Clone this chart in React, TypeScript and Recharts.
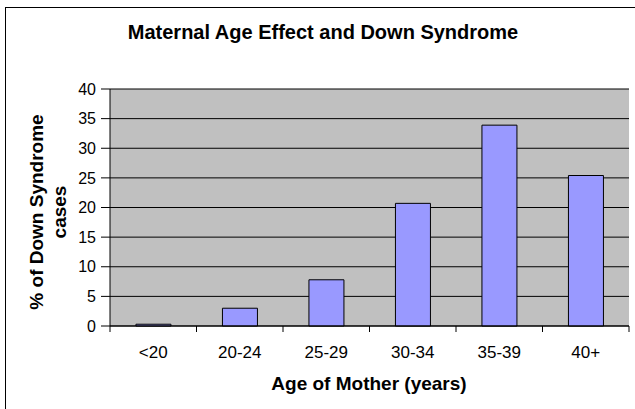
import { BarChart, Bar, XAxis, YAxis, CartesianGrid } from 'recharts';

// values
const ageGroups = ['<20', '20-24', '25-29', '30-34', '35-39', '40+'];
const downPercent = [0.3, 3.0, 7.8, 20.7, 33.9, 25.4];
const yTicks = [0, 5, 10, 15, 20, 25, 30, 35, 40];

const chartTitle = 'Maternal Age Effect and Down Syndrome';
const xTitle = 'Age of Mother (years)';
const yTitleLines = ['% of Down Syndrome', 'cases'];

const data = ageGroups.map((age, i) => ({ age, pct: downPercent[i] }));

const FONT = '"Liberation Sans", Arial, sans-serif';

// category label plus tick marks on the band boundaries (Excel style)
function AgeTick(props: any) {
  const { x, y, payload, index, visibleTicksCount } = props;
  const half = payload && payload.offset ? payload.offset : 43;
  const last = index === (visibleTicksCount ?? ageGroups.length) - 1;
  return (
    <g>
      <line x1={x - half} x2={x - half} y1={y} y2={y + 6} stroke="#000" />
      {last && <line x1={x + half} x2={x + half} y1={y} y2={y + 6} stroke="#000" />}
      <text x={x} y={y + 32} textAnchor="middle" fontSize={17} fontFamily={FONT} fill="#000">
        {payload.value}
      </text>
    </g>
  );
}

export default function App() {
  return (
    <div
      style={{
        position: 'fixed',
        left: 0,
        top: 0,
        width: 635,
        height: 409,
        overflow: 'hidden',
        background: '#fff',
      }}
    >
      {/* outer chart frame: only its left and top edges show in the picture */}
      <div
        style={{
          position: 'absolute',
          left: 5,
          top: 7,
          width: 630,
          height: 402,
          boxSizing: 'border-box',
          borderLeft: '1px solid #000',
          borderTop: '1px solid #000',
        }}
      />
      <div style={{ position: 'absolute', left: 0, top: 0 }}>
        <BarChart
          width={635}
          height={409}
          data={data}
          margin={{ top: 89, right: 6, left: 0, bottom: 0 }}
          barCategoryGap="30%"
        >
          <CartesianGrid vertical={false} stroke="#000" fill="#C0C0C0" fillOpacity={1} />
          <XAxis
            dataKey="age"
            height={83}
            tickSize={0}
            tickMargin={0}
            tickLine={false}
            axisLine={{ stroke: '#000' }}
            interval={0}
            tick={<AgeTick />}
          />
          <XAxis xAxisId="top" orientation="top" dataKey="age" height={0} tick={false} tickLine={false} axisLine={{ stroke: '#808080' }} />
          <YAxis
            width={110}
            domain={[0, 40]}
            ticks={yTicks}
            interval={0}
            tickSize={9}
            tickMargin={5}
            tickLine={{ stroke: '#000' }}
            axisLine={{ stroke: '#000' }}
            tick={{ fontSize: 16, fontFamily: FONT, fill: '#000' }}
          />
          <YAxis yAxisId="right" orientation="right" width={0} domain={[0, 40]} tick={false} tickLine={false} axisLine={{ stroke: '#808080' }} />
          <Bar dataKey="pct" fill="#9999FF" stroke="#000" strokeWidth={1} isAnimationActive={false} />
        </BarChart>
      </div>
      <svg
        width={635}
        height={409}
        style={{ position: 'absolute', left: 0, top: 0, pointerEvents: 'none' }}
      >
        <text x={323} y={39} textAnchor="middle" fontSize={20} fontWeight="bold" fontFamily={FONT} fill="#000">
          {chartTitle}
        </text>
        <text x={369} y={390} textAnchor="middle" fontSize={19} fontWeight="bold" fontFamily={FONT} fill="#000">
          {xTitle}
        </text>
        <text transform="translate(43,212) rotate(-90)" textAnchor="middle" fontSize={19} fontWeight="bold" fontFamily={FONT} fill="#000">
          <tspan x={0} y={0}>{yTitleLines[0]}</tspan>
          <tspan x={0} y={23}>{yTitleLines[1]}</tspan>
        </text>
      </svg>
    </div>
  );
}
